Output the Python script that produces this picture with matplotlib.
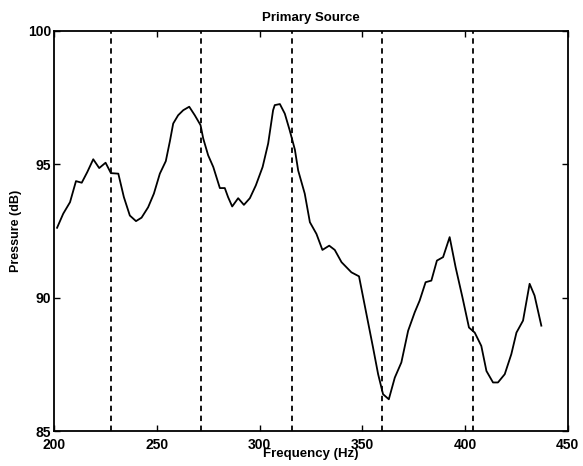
import matplotlib
matplotlib.use('Agg')
import matplotlib.pyplot as plt
import numpy as np

# traced frequency response (Hz, dB)
freq = [201.5, 204.5, 207.8, 210.7, 213.5, 216.2, 219.1, 222.0, 225.1, 227.7,
        231.3, 234.0, 236.9, 239.9, 242.6, 245.8, 248.6, 251.5, 254.4, 256.4,
        258.0, 260.4, 262.9, 265.8, 268.5, 271.3, 272.6, 275.0, 277.5, 280.7,
        283.1, 284.7, 286.7, 289.6, 292.4, 295.3, 298.2, 301.5, 304.2, 306.6,
        307.4, 309.9, 312.3, 314.7, 317.2, 318.8, 322.0, 324.5, 327.7, 330.6,
        333.9, 336.6, 339.9, 344.7, 348.4, 352.0, 355.2, 357.7, 360.1, 362.9,
        365.8, 369.0, 372.3, 375.5, 377.9, 380.8, 383.6, 386.3, 389.3, 392.5,
        395.4, 398.7, 401.9, 404.7, 407.9, 410.4, 413.6, 416.0, 419.3, 422.5,
        425.0, 428.2, 431.4, 433.8, 437.1]
pressure = [92.62, 93.15, 93.58, 94.37, 94.31, 94.71, 95.19, 94.86, 95.06, 94.67,
            94.65, 93.77, 93.08, 92.87, 93.00, 93.39, 93.90, 94.65, 95.12, 95.87,
            96.53, 96.84, 97.03, 97.16, 96.84, 96.47, 95.97, 95.34, 94.90, 94.11,
            94.11, 93.77, 93.42, 93.73, 93.48, 93.73, 94.21, 94.90, 95.78, 97.03,
            97.22, 97.26, 96.90, 96.27, 95.55, 94.77, 93.90, 92.83, 92.39, 91.79,
            91.95, 91.79, 91.33, 90.95, 90.80, 89.39, 88.14, 87.13, 86.38, 86.19,
            87.00, 87.57, 88.76, 89.45, 89.89, 90.58, 90.64, 91.39, 91.52, 92.27,
            91.14, 90.02, 88.88, 88.69, 88.19, 87.25, 86.82, 86.82, 87.13, 87.88,
            88.69, 89.14, 90.52, 90.08, 88.95]

# resonance markers
resonances = [227.7, 271.7, 315.8, 359.8, 404.0]

xticks = [200, 250, 300, 350, 400, 450]
yticks = [85, 90, 95, 100]

plt.rcParams['font.family'] = ['Liberation Sans', 'DejaVu Sans']

fig = plt.figure(figsize=(5.83, 4.66), dpi=100)
ax = fig.add_axes([0.0926, 0.0751, 0.8814, 0.8584])

for f in resonances:
    ax.axvline(f, color='black', lw=1.3, ls=(0, (3, 2.5)))
ax.plot(freq, pressure, color='black', lw=1.3)

ax.set_xlim(200, 450)
ax.set_ylim(85, 100)
ax.set_xticks(xticks)
ax.set_yticks(yticks)
ax.tick_params(direction='in', top=True, right=True, length=4, width=1,
               labelsize=10, pad=2)
ax.tick_params(axis='x', pad=5)
for lab in ax.get_xticklabels() + ax.get_yticklabels():
    lab.set_fontweight('bold')
# lift the lowest y label a touch so it clears the first x label
ax.get_yticklabels()[0].set_verticalalignment('center_baseline')
for s in ax.spines.values():
    s.set_linewidth(1.3)

ax.set_xlabel('Frequency (Hz)', fontsize=9.5, fontweight='bold', labelpad=-2.5)
ax.set_ylabel('Pressure (dB)', fontsize=9, fontweight='bold', labelpad=4)
ax.set_title('Primary Source', fontsize=9.5, fontweight='bold', pad=7)

fig.savefig('out.png', dpi=100)
